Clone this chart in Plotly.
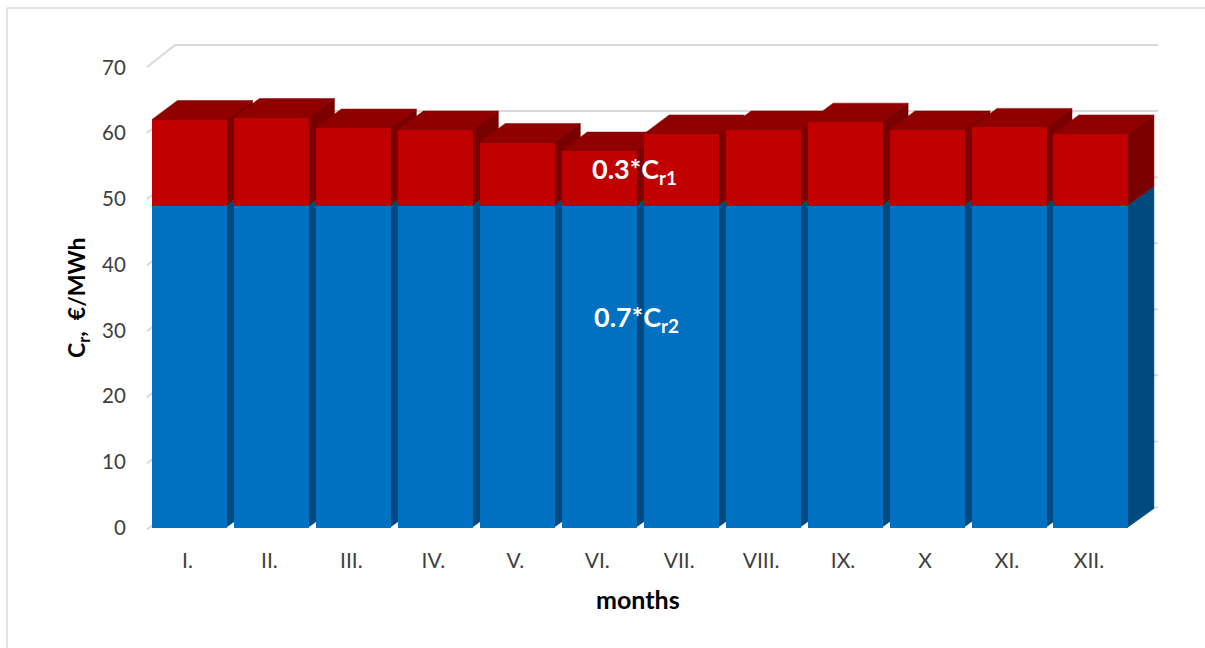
import plotly.graph_objects as go

months = ["I.", "II.", "III.", "IV.", "V.", "VI.", "VII.", "VIII.", "IX.", "X", "XI.", "XII."]
cr2_part = [49.0] * 12
cr1_part = [13.1, 13.4, 11.8, 11.5, 9.6, 8.3, 10.9, 11.5, 12.7, 11.5, 11.9, 10.9]
y_ticks = [0, 10, 20, 30, 40, 50, 60, 70]

BLUE, BLUE_D = "#0070c0", "#004a80"
RED, RED_TOP, RED_SIDE = "#c00000", "#8f0000", "#7a0000"
GRID = "#d9d9d9"

# pixel scale of the picture
PX_X, PX_Y = 81.95, 6.57
X0, Y0 = 189.5, 527.5          # pixel position of category 0 / value 0
L, R, T, B = 134, 1190, 30, 540
xr = [(L - X0) / PX_X, (R - X0) / PX_X]
yr = [(Y0 - B) / PX_Y, (Y0 - T) / PX_Y]

W = 75 / PX_X                  # bar width
DX, DY = 25.5 / PX_X, 19 / PX_Y  # bar depth
WDX, WDY = 28 / PX_X, 22 / PX_Y  # wall depth
WALL_L, WALL_R = (147 - X0) / PX_X, (1158 - WDX * PX_X - X0) / PX_X
WALL_SHIFT = -2 / PX_Y
WALL_SCALE = 6.607 / PX_Y
EPS_X, EPS_Y = 1 / PX_X, 1 / PX_Y  # faces tuck under the front bars

fig = go.Figure()


def poly(xs, ys, color):
    fig.add_trace(go.Scatter(x=xs, y=ys, mode="lines", fill="toself", fillcolor=color,
                             line=dict(color=color, width=0.5), hoverinfo="skip", showlegend=False))


# back wall gridlines
for v in y_ticks:
    fy = v * WALL_SCALE + WALL_SHIFT
    fig.add_trace(go.Scatter(x=[WALL_L, WALL_L + WDX, WALL_R + WDX], y=[fy, fy + WDY, fy + WDY],
                             mode="lines", line=dict(color=GRID, width=2),
                             hoverinfo="skip", showlegend=False))

# side and top faces, left to right
for i, (a, b) in enumerate(zip(cr2_part, cr1_part)):
    xl, xr_ = i - W / 2, i + W / 2
    t = a + b
    poly([xr_ - EPS_X, xr_ + DX, xr_ + DX, xr_ - EPS_X], [0, DY, a + DY, a], BLUE_D)
    poly([xr_ - EPS_X, xr_ + DX, xr_ + DX, xr_ - EPS_X], [a, a + DY, t + DY, t], RED_SIDE)
    poly([xl, xl + DX, xr_ + DX, xr_, xr_, xl], [t, t + DY, t + DY, t, t - EPS_Y, t - EPS_Y], RED_TOP)

# front faces, on an overlaid axis pair so that they sit above the faces
fig.add_trace(go.Bar(x=list(range(12)), y=cr2_part, width=W, marker=dict(color=BLUE, line_width=0),
                     xaxis="x2", yaxis="y2", showlegend=False))
fig.add_trace(go.Bar(x=list(range(12)), y=cr1_part, width=W, marker=dict(color=RED, line_width=0),
                     xaxis="x2", yaxis="y2", showlegend=False))

FONT = "Lato, Carlito, Calibri, sans-serif"
LABEL_SHIFT = -2 / PX_X


def note(px, py, text, size, color, angle=0):
    return dict(x=(px - L) / (R - L), y=(B - py) / (B - T), xref="paper", yref="paper", text=text,
                showarrow=False, xanchor="center", yanchor="middle", textangle=angle,
                font=dict(size=size, color=color, family=FONT, weight="bold"))


fig.update_layout(
    width=1205, height=648, autosize=False, barmode="stack", bargap=0,
    paper_bgcolor="white", plot_bgcolor="rgba(0,0,0,0)",
    margin=dict(l=L, r=1205 - R, t=T, b=648 - B),
    font=dict(family=FONT, size=20, color="#404040"),
    xaxis=dict(range=xr, tickmode="array", tickvals=[i + LABEL_SHIFT for i in range(12)], ticktext=months,
               showgrid=False, zeroline=False, showline=False,
               ticks="outside", ticklen=2, tickcolor="rgba(0,0,0,0)", tickfont=dict(size=21)),
    yaxis=dict(range=yr, tickmode="array", tickvals=y_ticks, showgrid=False, zeroline=False,
               showline=False, ticks="outside", ticklen=3, tickcolor="rgba(0,0,0,0)",
               tickfont=dict(size=20.5)),
    xaxis2=dict(range=xr, overlaying="x", visible=False),
    yaxis2=dict(range=yr, overlaying="y", visible=False),
    shapes=[
        dict(type="line", xref="paper", yref="paper", x0=(7 - L) / (R - L), x1=(7 - L) / (R - L),
             y0=(B - 648) / (B - T), y1=(B - 8) / (B - T), line=dict(color=GRID, width=1.5)),
        dict(type="line", xref="paper", yref="paper", x0=(7 - L) / (R - L), x1=(1205 - L) / (R - L),
             y0=(B - 8) / (B - T), y1=(B - 8) / (B - T), line=dict(color=GRID, width=1.5)),
    ],
    annotations=[
        note(634, 170, "0.3*C<sub>r1</sub>", 27, "white"),
        note(636, 318, "0.7*C<sub>r2</sub>", 27, "white"),
        note(638, 599, "months", 25, "black"),
        note(77, 298, "C<sub>r</sub>,\u00a0\u00a0€/MWh", 23, "black", angle=-90),
    ],
)

fig.write_html("out.html", post_script="document.body.style.margin='0';",
               config=dict(displayModeBar=False))
